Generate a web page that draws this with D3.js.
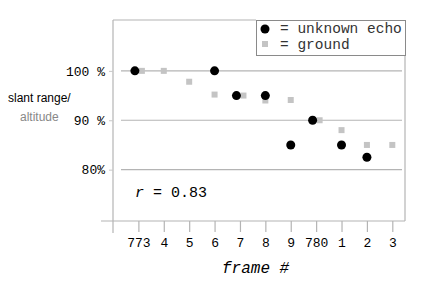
<!DOCTYPE html>
<html>
<head>
<meta charset="utf-8">
<script src="https://cdn.jsdelivr.net/npm/d3@7"></script>
<style>
  body { margin: 0; background: #fff; }
  svg { display: block; }
</style>
</head>
<body>
<script>
// chart data
var frames = [773, 774, 775, 776, 777, 778, 779, 780, 781, 782, 783];
var frameLabels = ["773", "4", "5", "6", "7", "8", "9", "780", "1", "2", "3"];
// unknown echo (null = no echo in that frame)
var echoValues = [100, null, null, 100, 95, 95, 85, 90, 85, 82.5, null];
// ground
var groundValues = [100, 100, 97.8, 95.2, 95, 94, 94.1, 90, 88, 85, 85];
var yTicks = [80, 90, 100];
var yTickLabels = ["80%", "90 %", "100 %"];

var svgWidth = 438;
var svgHeight = 294;

var svg = d3.select("body")
  .append("svg")
  .attr("width", svgWidth)
  .attr("height", svgHeight);

// scales
var xScale = d3.scaleLinear()
  .domain([772, 783.5])
  .range([113, 405]);

var yScale = d3.scaleLinear()
  .domain([69.6, 110.3])
  .range([221, 20]);

var mono = "'Liberation Mono', 'Courier New', monospace";

// gridlines
svg.selectAll(".grid")
  .data(yTicks)
  .enter()
  .append("line")
  .attr("x1", 121)
  .attr("x2", 402)
  .attr("y1", d => yScale(d))
  .attr("y2", d => yScale(d))
  .attr("stroke", "#b4b4b4")
  .attr("stroke-width", 1.2);

// frame lines
svg.append("line")
  .attr("x1", 113).attr("x2", 113)
  .attr("y1", 20).attr("y2", 233)
  .attr("stroke", "#b4b4b4").attr("stroke-width", 1.2);
svg.append("line")
  .attr("x1", 113).attr("x2", 256)
  .attr("y1", 20).attr("y2", 20)
  .attr("stroke", "#b4b4b4").attr("stroke-width", 1.2);
svg.append("line")
  .attr("x1", 405).attr("x2", 405)
  .attr("y1", 56).attr("y2", 221)
  .attr("stroke", "#b4b4b4").attr("stroke-width", 1.2);

// x axis
var xAxis = d3.axisBottom(xScale)
  .tickValues(frames)
  .tickFormat((d, i) => frameLabels[i])
  .tickSizeInner(11)
  .tickSizeOuter(0)
  .tickPadding(6);

var xg = svg.append("g")
  .attr("transform", "translate(0, 221)")
  .call(xAxis);
xg.select(".domain").remove();
xg.append("line")
  .attr("x1", 101).attr("x2", 405)
  .attr("stroke", "#b4b4b4").attr("stroke-width", 1.2);
xg.selectAll(".tick line").attr("stroke", "#b4b4b4").attr("stroke-width", 1.2);
xg.selectAll(".tick text")
  .attr("fill", "#000")
  .style("font-family", mono)
  .style("font-size", "13px");

// y axis
var yAxis = d3.axisLeft(yScale)
  .tickValues(yTicks)
  .tickFormat((d, i) => yTickLabels[i])
  .tickSizeInner(4)
  .tickSizeOuter(0)
  .tickPadding(4);

var yg = svg.append("g")
  .attr("transform", "translate(113, 0)")
  .call(yAxis);
yg.select(".domain").remove();
yg.selectAll(".tick line").attr("stroke", "#c8c8c8");
yg.selectAll(".tick text")
  .attr("fill", "#000")
  .style("font-family", mono)
  .style("font-size", "13px");

// y axis title
svg.append("text")
  .attr("x", 8).attr("y", 102)
  .style("font-family", "'Liberation Sans', Arial, sans-serif")
  .style("font-size", "12px")
  .attr("fill", "#000")
  .text("slant range/");
svg.append("text")
  .attr("x", 20).attr("y", 121)
  .style("font-family", "'Liberation Sans', Arial, sans-serif")
  .style("font-size", "12px")
  .attr("fill", "#888")
  .text("altitude");

// x axis title
svg.append("text")
  .attr("x", 222).attr("y", 273)
  .style("font-family", mono)
  .style("font-size", "16px")
  .style("font-style", "italic")
  .attr("fill", "#000")
  .text("frame #");

// correlation note
svg.append("text")
  .attr("x", 135).attr("y", 197)
  .style("font-family", mono)
  .style("font-size", "15px")
  .attr("fill", "#000")
  .html("<tspan font-style='italic'>r</tspan> = 0.83");

// shift the two series apart where they overlap
function offset(i, dir) {
  var a = echoValues[i], b = groundValues[i];
  if (a != null && Math.abs(a - b) < 0.5) return dir * 3.5;
  return 0;
}

// ground squares
svg.selectAll(".ground")
  .data(groundValues)
  .enter()
  .append("rect")
  .classed("ground", true)
  .attr("x", (d, i) => xScale(frames[i]) + offset(i, 1) - 3)
  .attr("y", d => yScale(d) - 3)
  .attr("width", 6)
  .attr("height", 6)
  .attr("fill", "#c4c4c4");

// unknown echo dots
svg.selectAll(".echo")
  .data(echoValues.map((v, i) => ({ v: v, i: i })).filter(d => d.v != null))
  .enter()
  .append("circle")
  .classed("echo", true)
  .attr("cx", d => xScale(frames[d.i]) + offset(d.i, -1))
  .attr("cy", d => yScale(d.v))
  .attr("r", 4.5)
  .attr("fill", "#000");

// legend
var legend = svg.append("g");
legend.append("rect")
  .attr("x", 256.5).attr("y", 20.5)
  .attr("width", 149).attr("height", 35)
  .attr("fill", "#fff")
  .attr("stroke", "#8a8a8a");
legend.append("circle")
  .attr("cx", 265).attr("cy", 29)
  .attr("r", 4.5)
  .attr("fill", "#000");
legend.append("rect")
  .attr("x", 262).attr("y", 41)
  .attr("width", 6).attr("height", 6)
  .attr("fill", "#c4c4c4");
legend.append("text")
  .attr("x", 280).attr("y", 33)
  .style("font-family", mono)
  .style("font-size", "14.5px")
  .attr("fill", "#333")
  .text("= unknown echo");
legend.append("text")
  .attr("x", 280).attr("y", 49)
  .style("font-family", mono)
  .style("font-size", "14.5px")
  .attr("fill", "#333")
  .text("= ground");
</script>
</body>
</html>
